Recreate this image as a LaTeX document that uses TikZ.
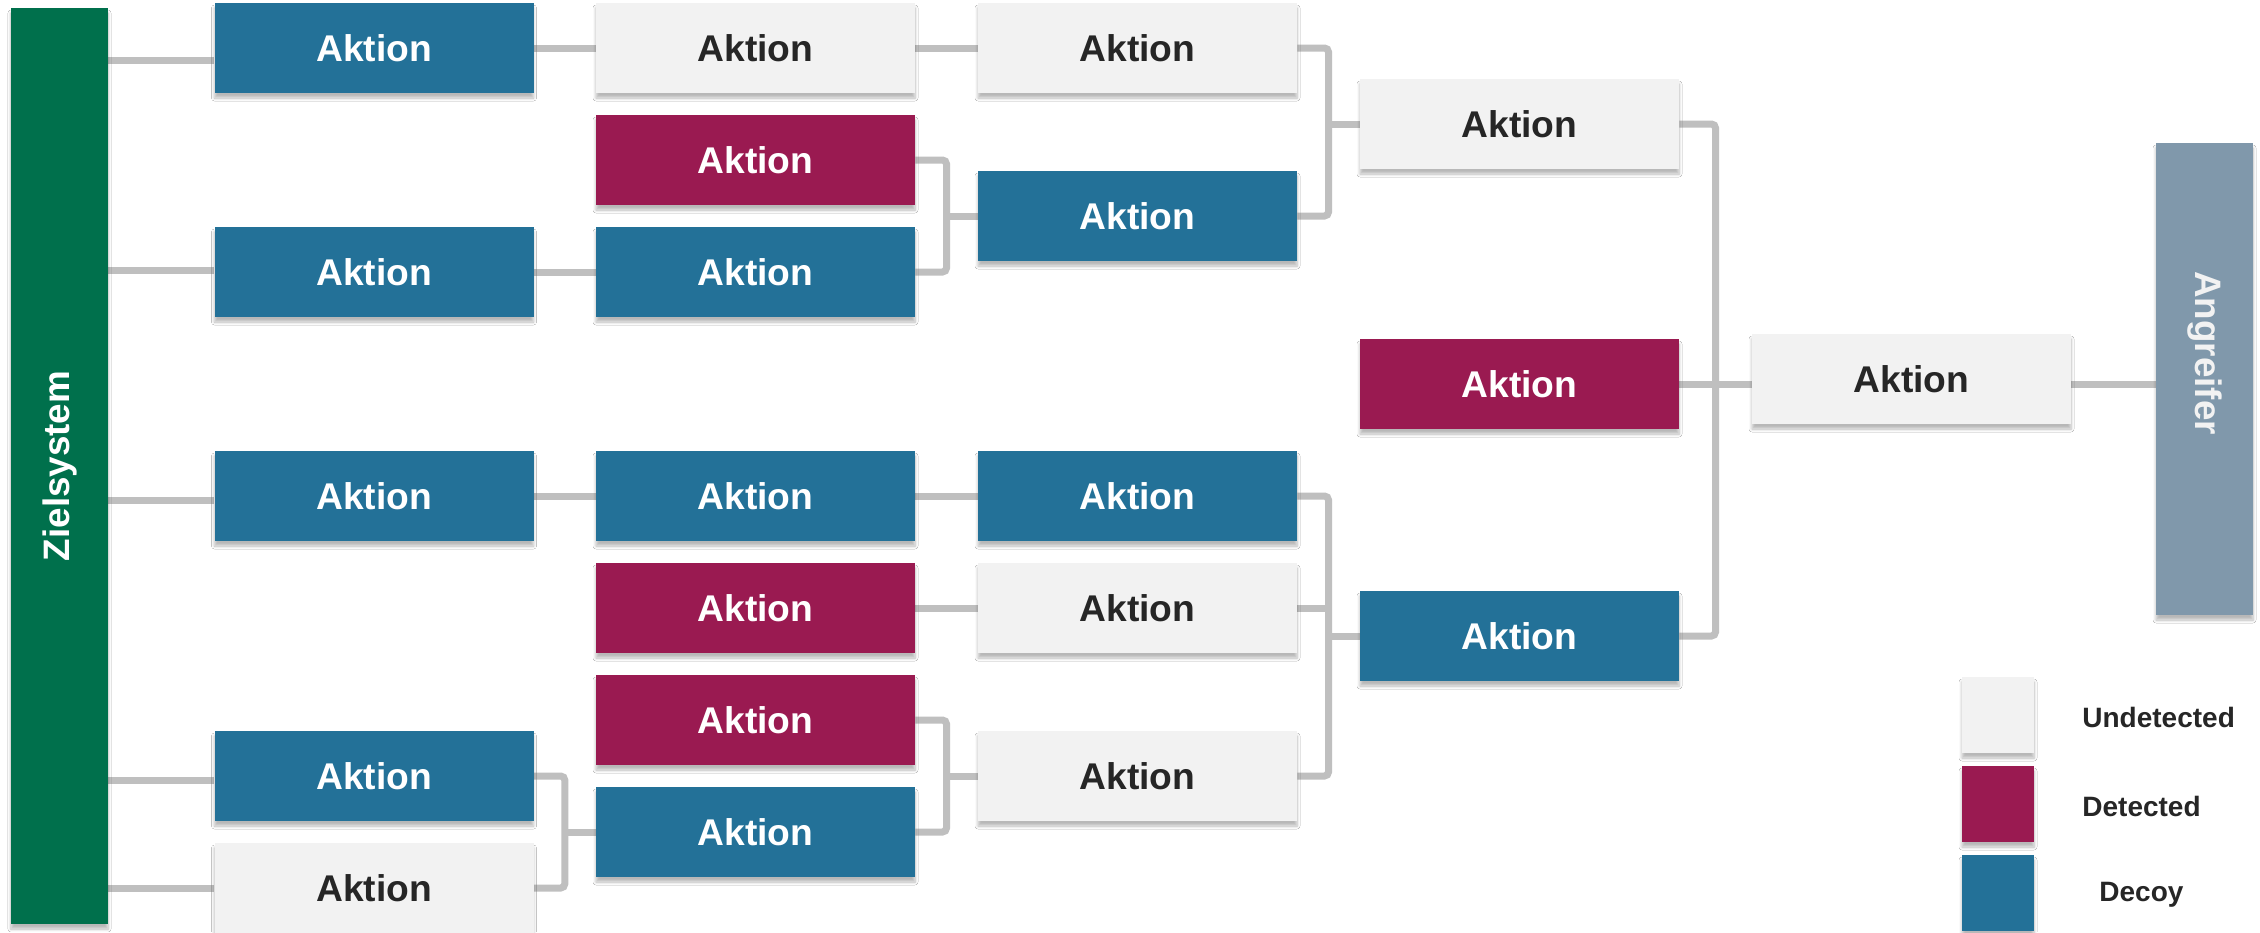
\documentclass[tikz,border=0pt]{standalone}
\usepackage{fontspec}
\setmainfont{Liberation Sans}
\usetikzlibrary{calc,backgrounds,shadows.blur}
\definecolor{zgreen}{HTML}{00704C}
\definecolor{decoy}{HTML}{237198}
\definecolor{detected}{HTML}{9A1A51}
\definecolor{undet}{HTML}{F2F2F2}
\definecolor{attacker}{HTML}{8098AB}
\definecolor{wire}{HTML}{BFBFBF}
\definecolor{ink}{HTML}{262626}
\begin{document}
\begin{tikzpicture}[x=0.5pt,y=-0.5pt,
  softshadow/.style={blur shadow={shadow xshift=0pt,shadow yshift=-2.5pt,
      shadow blur radius=1.5pt,shadow blur steps=6,shadow opacity=28}},
  box/.style={softshadow,draw=none,minimum width=159.5pt,minimum height=45pt,
      inner sep=0pt,font=\fontsize{18.6}{20}\selectfont\bfseries},
  ubox/.style={box,fill=undet,text=ink},
  mbox/.style={box,fill=detected,text=white},
  dbox/.style={box,fill=decoy,text=white},
  bar/.style={softshadow,draw=none,minimum width=48.5pt,inner sep=0pt},
  barlabel/.style={text=white,font=\fontsize{18.4}{20}\selectfont\bfseries,inner sep=0pt},
  key/.style={softshadow,draw=none,minimum width=36pt,minimum height=38pt,inner sep=0pt},
  keylabel/.style={anchor=west,text=ink,inner sep=0pt,font=\fontsize{14}{16}\selectfont\bfseries},
  conn/.style={draw=wire,line width=3.5pt,rounded corners=2pt}]

\useasboundingbox (0,0) rectangle (2260,932);

% side bars
\node[bar,fill=zgreen,minimum height=458pt] (zs) at (59.5,466) {};
\node[barlabel,rotate=90] (zslabel) at (zs.center) {Zielsystem};
\node[bar,fill=attacker,minimum height=236pt] (ang) at (2204.5,379) {};
\node[barlabel,rotate=-90,text=undet] (anglabel) at (2205,353) {Angreifer};

% column 1
\node[dbox] (a11) at (374,48)  {Aktion};
\node[dbox] (a12) at (374,272) {Aktion};
\node[dbox] (a13) at (374,496) {Aktion};
\node[dbox] (a14) at (374,776) {Aktion};
\node[ubox] (a15) at (374,888) {Aktion};

% column 2
\node[ubox] (a21) at (755.5,48)  {Aktion};
\node[mbox] (a22) at (755.5,160) {Aktion};
\node[dbox] (a23) at (755.5,272) {Aktion};
\node[dbox] (a24) at (755.5,496) {Aktion};
\node[mbox] (a25) at (755.5,608) {Aktion};
\node[mbox] (a26) at (755.5,720) {Aktion};
\node[dbox] (a27) at (755.5,832) {Aktion};

% column 3
\node[ubox] (a31) at (1137.5,48)  {Aktion};
\node[dbox] (a32) at (1137.5,216) {Aktion};
\node[dbox] (a33) at (1137.5,496) {Aktion};
\node[ubox] (a34) at (1137.5,608) {Aktion};
\node[ubox] (a35) at (1137.5,776) {Aktion};

% column 4
\node[ubox] (a41) at (1519.5,124) {Aktion};
\node[mbox] (a42) at (1519.5,384) {Aktion};
\node[dbox] (a43) at (1519.5,636) {Aktion};

% column 5
\node[ubox] (a5) at (1911.5,379) {Aktion};

% legend
\node[key,fill=undet]    (ku) at (1998,715) {};
\node[key,fill=detected] (kd) at (1998,804) {};
\node[key,fill=decoy]    (kc) at (1998,893) {};
\node[keylabel] (kut) at (2082,717) {Undetected};
\node[keylabel] (kdt) at (2082,806) {Detected};
\node[keylabel] (kct) at (2099,895) {Decoy};

% bracket columns
\coordinate (x12) at ($(a11.east)!.5!(a21.west)$);
\coordinate (x23) at ($(a21.east)!.5!(a31.west)$);
\coordinate (x34) at ($(a31.east)!.5!(a41.west)$);
\coordinate (x45) at ($(a41.east)!.5!(a5.west)$);

\begin{scope}[on background layer]
  \fill[white] (0,0) rectangle (2260,932);
  % from the target system
  \draw[conn] (zs.east |- 0,60)  -- (a11.west |- 0,60);
  \draw[conn] (zs.east |- 0,270) -- (a12.west |- 0,270);
  \draw[conn] (zs.east |- 0,500) -- (a13.west |- 0,500);
  \draw[conn] (zs.east |- 0,780) -- (a14.west |- 0,780);
  \draw[conn] (zs.east |- 0,888) -- (a15.west |- 0,888);
  % straight links
  \draw[conn] (a11.east) -- (a21.west);
  \draw[conn] (a21.east) -- (a31.west);
  \draw[conn] (a12.east) -- (a23.west);
  \draw[conn] (a13.east) -- (a24.west);
  \draw[conn] (a24.east) -- (a33.west);
  \draw[conn] (a25.east) -- (a34.west);
  % brackets
  \draw[conn] (a22.east) -| (x23 |- a23.east) -- (a23.east);
  \draw[conn] (x23 |- a32.west) -- (a32.west);
  \draw[conn] (a31.east) -| (x34 |- a32.east) -- (a32.east);
  \draw[conn] (x34 |- a41.west) -- (a41.west);
  \draw[conn] (a14.east) -| (x12 |- a15.east) -- (a15.east);
  \draw[conn] (x12 |- a27.west) -- (a27.west);
  \draw[conn] (a26.east) -| (x23 |- a27.east) -- (a27.east);
  \draw[conn] (x23 |- a35.west) -- (a35.west);
  \draw[conn] (a33.east) -| (x34 |- a35.east) -- (a35.east);
  \draw[conn] (a34.east) -- (x34 |- a34.east);
  \draw[conn] (x34 |- a43.west) -- (a43.west);
  \draw[conn] (a41.east) -| (x45 |- a43.east) -- (a43.east);
  \draw[conn] (a42.east) -- (a5.west |- a42.east);
  \draw[conn] (a5.east |- a42.east) -- (ang.west |- a42.east);
\end{scope}
\end{tikzpicture}
\end{document}
